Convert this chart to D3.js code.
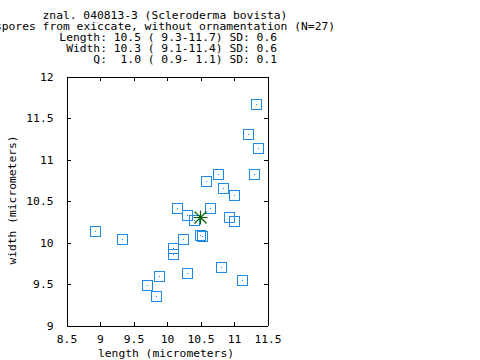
<!DOCTYPE html>
<html>
<head>
<meta charset="utf-8">
<script src="https://cdn.jsdelivr.net/npm/d3@7"></script>
<style>
	body { margin: 0; background: white; }
	svg { display: block; }
	text { font-family: "DejaVu Sans Mono", "Liberation Mono", monospace; font-size: 11.3px; fill: black; white-space: pre; }
</style>
</head>
<body>
<script>
var lengths = [11.34, 11.22, 11.37, 11.31, 10.77, 10.59, 10.85, 11.01, 8.94, 9.34,
	9.89, 9.71, 9.85, 10.15, 10.31, 10.65, 10.41, 10.94, 11.01, 10.50,
	10.53, 10.25, 10.10, 10.10, 10.31, 10.82, 11.13];
var widths = [11.66, 11.30, 11.13, 10.82, 10.82, 10.74, 10.65, 10.57, 10.13, 10.04,
	9.59, 9.48, 9.35, 10.41, 10.33, 10.41, 10.27, 10.30, 10.25, 10.08,
	10.07, 10.04, 9.93, 9.85, 9.63, 9.70, 9.54];
var mean_point = [10.5, 10.3];

var x_ticks = [8.5, 9, 9.5, 10, 10.5, 11, 11.5];
var y_ticks = [9, 9.5, 10, 10.5, 11, 11.5, 12];

var title_center = ["znal. 040813-3 (Scleroderma bovista)",
	"spores from exiccate, without ornamentation (N=27)"];
var title_right = ["Length: 10.5 ( 9.3-11.7) SD: 0.6",
	"Width: 10.3 ( 9.1-11.4) SD: 0.6",
	"Q:  1.0 ( 0.9- 1.1) SD: 0.1"];

var x_label = "length (micrometers)",
	y_label = "width (micrometers)";

var w = 480, h = 360;
var left = 66, right = 267, top_y = 76, bottom = 325;
var point_color = "#1e88e5",
	star_color = "#006400";

var svg = d3.select("body").append("svg")
	.attr("width", w)
	.attr("height", h);

var x = d3.scaleLinear().domain([8.5, 11.5]).range([left, right]);
var y = d3.scaleLinear().domain([9, 12]).range([bottom, top_y]);

// title
title_center.forEach(function(t, i) {
	svg.append("text")
		.attr("x", 165)
		.attr("y", 19 + i * 11)
		.attr("text-anchor", "middle")
		.text(t);
});
title_right.forEach(function(t, i) {
	svg.append("text")
		.attr("x", 277)
		.attr("y", 41 + i * 11)
		.attr("text-anchor", "end")
		.text(t);
});

// axes, ticks pointing inwards on all four sides
var fmt = function(d) { return String(d); };
var g_bottom = svg.append("g")
	.attr("transform", "translate(0.5," + (bottom + 0.5) + ")")
	.call(d3.axisBottom(x).tickValues(x_ticks).tickFormat(fmt).tickSize(-4).tickSizeOuter(0).tickPadding(9));
var g_top = svg.append("g")
	.attr("transform", "translate(0.5," + (top_y + 0.5) + ")")
	.call(d3.axisTop(x).tickValues(x_ticks).tickFormat("").tickSize(-4).tickSizeOuter(0));
var g_left = svg.append("g")
	.attr("transform", "translate(" + (left + 0.5) + ",0.5)")
	.call(d3.axisLeft(y).tickValues(y_ticks).tickFormat(fmt).tickSize(-4).tickSizeOuter(0).tickPadding(13));
var g_right = svg.append("g")
	.attr("transform", "translate(" + (right + 0.5) + ",0.5)")
	.call(d3.axisRight(y).tickValues(y_ticks).tickFormat("").tickSize(-4).tickSizeOuter(0));

[g_bottom, g_top, g_left, g_right].forEach(function(g) {
	g.attr("font-family", null).attr("font-size", null);
	g.selectAll("path, line").attr("stroke", "black").attr("shape-rendering", "crispEdges");
	g.selectAll("text").attr("fill", "black");
});
// drop the tick marks sitting on the corners
g_bottom.selectAll(".tick line").filter(function(d) { return d == 8.5 || d == 11.5; }).remove();
g_top.selectAll(".tick line").filter(function(d) { return d == 8.5 || d == 11.5; }).remove();
g_left.selectAll(".tick line").filter(function(d) { return d == 9 || d == 12; }).remove();
g_right.selectAll(".tick line").filter(function(d) { return d == 9 || d == 12; }).remove();

// axis labels
svg.append("text")
	.attr("x", 166)
	.attr("y", 357)
	.attr("text-anchor", "middle")
	.text(x_label);
svg.append("text")
	.attr("transform", "translate(16,200) rotate(-90)")
	.attr("text-anchor", "middle")
	.text(y_label);

// spores: open squares with a dot in the middle
var pts = lengths.map(function(l, i) { return [l, widths[i]]; });
var spore = svg.append("g").selectAll("g")
	.data(pts)
	.enter()
	.append("g")
	.attr("transform", function(d) {
		return "translate(" + Math.round(x(d[0])) + "," + Math.round(y(d[1])) + ")";
	});
spore.append("rect")
	.attr("x", -4.5)
	.attr("y", -4.5)
	.attr("width", 10)
	.attr("height", 10)
	.attr("fill", "none")
	.attr("stroke", point_color)
	.attr("stroke-width", 1.2)
	.attr("shape-rendering", "crispEdges");
spore.append("rect")
	.attr("x", 0)
	.attr("y", 0)
	.attr("width", 1)
	.attr("height", 1)
	.attr("fill", point_color);

// mean: star made of + and x
var sx = Math.round(x(mean_point[0])) + 0.5,
	sy = Math.round(y(mean_point[1])) + 0.5;
var star_path = "M" + (sx - 7) + " " + sy + " L" + (sx + 7) + " " + sy +
	" M" + sx + " " + (sy - 7) + " L" + sx + " " + (sy + 7) +
	" M" + (sx - 6) + " " + (sy - 6) + " L" + (sx + 6) + " " + (sy + 6) +
	" M" + (sx - 6) + " " + (sy + 6) + " L" + (sx + 6) + " " + (sy - 6);
svg.append("path")
	.attr("d", star_path)
	.attr("stroke", star_color)
	.attr("stroke-width", 1.2)
	.attr("fill", "none");
</script>
</body>
</html>
